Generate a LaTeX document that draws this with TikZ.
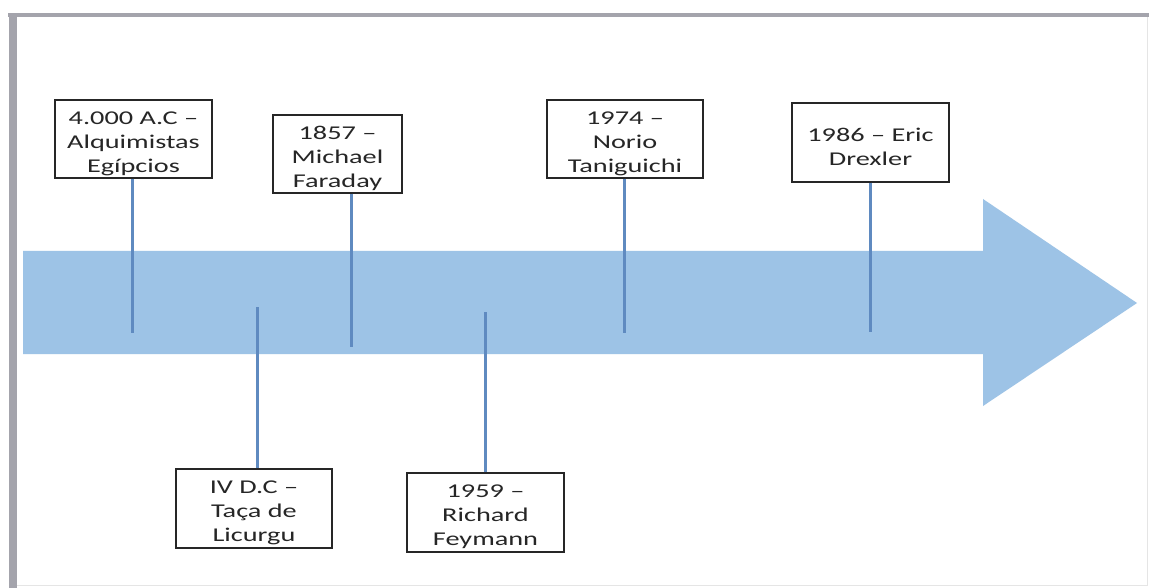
\documentclass[tikz,border=0pt]{standalone}
\usepackage{fontspec}
\setmainfont{Carlito}
\newfontfamily\boxfont[FakeStretch=1.45,Ligatures=TeX]{Carlito}
\newcommand{\toproom}{\rule{0pt}{22pt}}
\begin{document}
\begin{tikzpicture}[x=1pt,y=-1pt,
  evbox/.style={draw=black!85,line width=1.4pt,fill=white,inner sep=0pt,
    align=center,font=\boxfont\fontsize{19.5}{24}\selectfont,text=black!85},
  stem/.style={draw=stemblue,line width=3pt}]
\definecolor{arrowblue}{HTML}{9DC3E6}
\definecolor{stemblue}{HTML}{5F8AC0}
\definecolor{framegrey}{HTML}{A4A4AC}
\useasboundingbox (0,0) rectangle (1149,588);
\fill[white] (0,0) rectangle (1149,588);
% frame
\fill[framegrey] (8,13) rectangle (1149,17);
\fill[framegrey] (9,13) rectangle (17,588);
\draw[black!10,line width=1pt] (17,585) -- (1147,585) -- (1147,17);
% arrow
\fill[arrowblue] (23,251) -- (983,251) -- (983,199) -- (1137,303) -- (983,406) -- (983,354) -- (23,354) -- cycle;
% end points
\coordinate (e1) at (132,333);
\coordinate (e2) at (351,347);
\coordinate (e3) at (624,333);
\coordinate (e4) at (870,332);
\coordinate (e5) at (257,307);
\coordinate (e6) at (485,312);
% boxes
\node[evbox,minimum width=157pt,minimum height=78pt] (b1) at (133.5,139) {\toproom 4.000 A.C –\\Alquimistas\\Egípcios};
\node[evbox,minimum width=129pt,minimum height=78pt] (b2) at (337.5,154) {\toproom 1857 –\\Michael\\Faraday};
\node[evbox,minimum width=156pt,minimum height=78pt] (b3) at (625,139) {\toproom 1974 –\\Norio\\Taniguichi};
\node[evbox,minimum width=157pt,minimum height=79pt] (b4) at (870.5,142.5) {\toproom 1986 – Eric\\Drexler};
\node[evbox,minimum width=156pt,minimum height=79pt] (b5) at (254,508.5) {\toproom IV D.C –\\Taça de\\Licurgu};
\node[evbox,minimum width=157pt,minimum height=79pt] (b6) at (485.5,512.5) {\toproom 1959 –\\Richard\\Feymann};
% stems
\draw[stem] (b1.south -| e1) -- (e1);
\draw[stem] (b2.south -| e2) -- (e2);
\draw[stem] (b3.south -| e3) -- (e3);
\draw[stem] (b4.south -| e4) -- (e4);
\draw[stem] (b5.north -| e5) -- (e5);
\draw[stem] (b6.north -| e6) -- (e6);
\end{tikzpicture}
\end{document}
